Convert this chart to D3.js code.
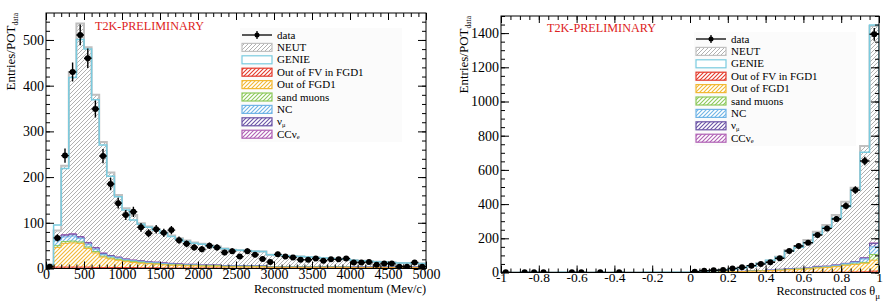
<!DOCTYPE html>
<html>
<head>
<meta charset="utf-8">
<script src="https://cdn.jsdelivr.net/npm/d3@7"></script>
<style>
body { margin: 0; background: #fff; }
svg { display: block; font-family: "Liberation Serif", "DejaVu Serif", serif; }
</style>
</head>
<body>
<div id="chart"></div>
<script>
// ---- momentum panel: 50 bins of 100 MeV/c from 0 to 5000 ----
var momRange = [0, 5000];
var momTicks = [0, 500, 1000, 1500, 2000, 2500, 3000, 3500, 4000, 4500, 5000];
var momYTicks = [0, 100, 200, 300, 400, 500];
var momData = [4, 67, 247, 430, 511, 460, 349, 246, 185, 143, 117, 124, 90, 77, 86, 78, 84, 62, 54, 46,
  42, 50, 46, 35, 38, 26, 38, 30, 21, 14, 31, 26, 24, 19, 19, 22, 17, 20, 20, 22,
  13, 13, 14, 8, 11, 11, 4, 4, 13, 4];
// NEUT = total of the stack
var momNeut = [9, 83, 225, 430, 536, 484, 380, 277, 210, 161, 132, 117, 99, 92, 86, 79, 72, 66, 61, 57,
  54, 51, 48, 44, 41, 40, 39, 38, 37, 30, 29, 28, 27, 26, 25, 24, 23, 22, 21, 20,
  18, 17, 16, 15, 14, 13, 12, 12, 11, 11];
var momGenie = [8, 95, 219, 418, 501, 480, 369, 270, 202, 157, 128, 106, 97, 90, 84, 77, 70, 64, 59, 55,
  53, 49, 46, 43, 41, 40, 39, 38, 37, 30, 29, 28, 27, 26, 25, 24, 23, 22, 21, 20,
  18, 17, 16, 15, 14, 13, 12, 12, 11, 11];
var momOutFV = [1, 3, 3, 3, 3, 3, 2, 2, 2, 2, 2, 2, 1.5, 1.5, 1.5, 1, 1, 1, 1, 1,
  1, 1, 1, 0.5, 0.5, 0.5, 0.5, 0.5, 0.5, 0.5, 0.5, 0.5, 0.5, 0.5, 0.5, 0.5, 0.5, 0.5, 0.5, 0.5,
  0.5, 0.5, 0.5, 0.5, 0.5, 0.5, 0.5, 0.5, 0.5, 0.5];
var momOutFGD = [2, 43, 52, 53, 52, 41, 32, 23, 19, 16, 13, 11, 10, 9, 8, 7, 6, 6, 5, 5,
  4, 4, 4, 3, 3, 3, 3, 3, 3, 2, 2, 2, 2, 2, 2, 2, 2, 2, 2, 2,
  1.5, 1.5, 1.5, 1.5, 1.5, 1.5, 1.5, 1.5, 1.5, 1.5];
var momSand = [0, 4, 4, 4, 3, 3, 3, 2, 2, 2, 2, 2, 2, 1, 1, 1, 1, 1, 1, 1,
  1, 1, 1, 1, 1, 1, 1, 1, 1, 0.5, 0.5, 0.5, 0.5, 0.5, 0.5, 0.5, 0.5, 0.5, 0.5, 0.5,
  0.5, 0.5, 0.5, 0.5, 0.5, 0.5, 0.5, 0.5, 0.5, 0.5];
var momNC = [1, 12, 10, 11, 8, 6, 5, 4, 3, 3, 2, 2, 2, 2, 2, 2, 2, 1, 1, 1,
  1, 1, 1, 1, 1, 1, 1, 1, 1, 0.5, 0.5, 0.5, 0.5, 0.5, 0.5, 0.5, 0.5, 0.5, 0.5, 0.5,
  0.5, 0.5, 0.5, 0.5, 0.5, 0.5, 0.5, 0.5, 0.5, 0.5];
var momNumubar = [0, 3, 4, 4, 3, 3, 3, 2, 2, 1.5, 1.5, 1, 1, 1, 1, 1, 1, 1, 1, 1,
  0.5, 0.5, 0.5, 0.5, 0.5, 0.5, 0.5, 0.5, 0.5, 0.5, 0.3, 0.3, 0.3, 0.3, 0.3, 0.3, 0.3, 0.3, 0.3, 0.3,
  0.3, 0.3, 0.3, 0.3, 0.3, 0.3, 0.3, 0.3, 0.3, 0.3];
var momNue = [0, 1, 1, 1, 1, 1, 1, 1, 0.5, 0.5, 0.5, 0.5, 0.5, 0.5, 0.5, 0.5, 0.3, 0.3, 0.3, 0.3,
  0.2, 0.2, 0.2, 0.2, 0.2, 0.2, 0.2, 0.2, 0.2, 0.2, 0.1, 0.1, 0.1, 0.1, 0.1, 0.1, 0.1, 0.1, 0.1, 0.1,
  0.1, 0.1, 0.1, 0.1, 0.1, 0.1, 0.1, 0.1, 0.1, 0.1];

// ---- cos theta panel: 40 bins of 0.05 from -1 to 1 ----
var cosRange = [-1, 1];
var cosTicks = [-1, -0.8, -0.6, -0.4, -0.2, 0, 0.2, 0.4, 0.6, 0.8, 1];
var cosYTicks = [0, 200, 400, 600, 800, 1000, 1200, 1400];
var cosData = [1, 0, 1, 1, 1, 0, 0, 1, 1, 0, 1, 0, 1, 0, 0, 0, 0, 0, 0, 0,
  5, 10, 13, 15, 24, 30, 40, 50, 60, 83, 126, 155, 174, 219, 258, 313, 389, 482, 652, 1393];
var cosNeut = [0.5, 0.5, 1, 1, 0.5, 0.5, 1, 1, 1, 0.5, 1, 0.5, 1, 0.5, 0.5, 1, 1, 1, 1.5, 2,
  4, 7, 11, 15, 22, 28, 38, 54, 69, 92, 131, 155, 190, 239, 278, 336, 414, 496, 740, 1441];
var cosGenie = [0.5, 0.5, 1, 1, 0.5, 0.5, 1, 1, 1, 0.5, 1, 0.5, 1, 0.5, 0.5, 1, 1, 1, 1.5, 2,
  4, 7, 10, 14, 21, 27, 37, 52, 72, 89, 126, 147, 176, 223, 264, 317, 385, 482, 703, 1447];
var cosOutFV = [0.3, 0.3, 0.3, 0.3, 0.3, 0.3, 0.3, 0.3, 0.3, 0.3, 0.3, 0.3, 0.3, 0.3, 0.3, 0.3, 0.3, 0.3, 0.3, 0.3,
  0.5, 0.5, 0.5, 0.5, 0.5, 0.5, 0.5, 1, 1, 1, 1, 1, 1, 1.5, 1.5, 2, 2, 3, 4, 8];
var cosOutFGD = [0, 0, 0, 0, 0, 0, 0, 0, 0, 0, 0, 0, 0, 0, 0, 0, 0, 0, 0, 0,
  1, 1, 2, 3, 4, 5, 7, 8, 10, 12, 15, 18, 20, 25, 28, 32, 40, 44, 50, 64];
var cosSand = [0, 0, 0, 0, 0, 0, 0, 0, 0, 0, 0, 0, 0, 0, 0, 0, 0, 0, 0, 0,
  0, 0, 0, 0, 0, 0, 0.5, 0.5, 0.5, 0.5, 1, 1, 1, 1, 1, 1.5, 2, 3, 5, 33];
var cosNC = [0, 0, 0, 0, 0, 0, 0, 0, 0, 0, 0, 0, 0, 0, 0, 0, 0, 0, 0, 0,
  0, 0, 0.5, 0.5, 0.5, 1, 1, 1, 2, 2, 3, 3, 3, 4, 4, 6, 7, 10, 20, 45];
var cosNumubar = [0, 0, 0, 0, 0, 0, 0, 0, 0, 0, 0, 0, 0, 0, 0, 0, 0, 0, 0, 0,
  0, 0, 0, 0, 0, 0, 0.5, 0.5, 0.5, 3, 1, 1, 1, 4, 2, 2, 2, 3, 6, 20];
var cosNue = [0, 0, 0, 0, 0, 0, 0, 0, 0, 0, 0, 0, 0, 0, 0, 0, 0, 0, 0, 0,
  0, 0, 0, 0, 0, 0, 0, 0, 0, 0, 0.3, 0.3, 0.3, 0.5, 0.5, 0.5, 0.5, 1, 1, 3];

var legendLabels = ["data", "NEUT", "GENIE", "Out of FV in FGD1", "Out of FGD1", "sand muons", "NC", "νμ", "CCνe"];

// colours
var bkgColors = ["#e33a2c", "#f2b833", "#8cc85a", "#6fb4e6", "#6a53a6", "#b060b4"];
var neutHatch = "#a8a8a8", neutLine = "#c0c0c0", genieColor = "#7acbdf";

var svgWidth = 893, svgHeight = 306;
var svg = d3.select("#chart").append("svg")
  .attr("width", svgWidth)
  .attr("height", svgHeight);

var defs = svg.append("defs");

function hatch(id, color, sw) {
  var p = defs.append("pattern")
    .attr("id", id)
    .attr("patternUnits", "userSpaceOnUse")
    .attr("width", 4)
    .attr("height", 4);
  p.append("rect").attr("width", 4).attr("height", 4).attr("fill", "#fff");
  p.append("path")
    .attr("d", "M-1,1 l2,-2 M0,4 l4,-4 M3,5 l2,-2")
    .attr("stroke", color)
    .attr("stroke-width", sw);
}
hatch("h-neut", neutHatch, 0.9);
bkgColors.forEach(function(c, i) { hatch("h-bkg" + i, c, 1.1); });

// step outline of a histogram, starting and ending on the zero line
function stepPts(vals, lo, w) {
  var pts = [[lo, 0]];
  vals.forEach(function(v, i) {
    pts.push([lo + i * w, v]);
    pts.push([lo + (i + 1) * w, v]);
  });
  pts.push([lo + vals.length * w, 0]);
  return pts;
}

function drawPanel(cfg) {
  var x = d3.scaleLinear().domain(cfg.xDomain).range([cfg.left, cfg.right]);
  var y = d3.scaleLinear().domain(cfg.yDomain).range([cfg.bottom, cfg.top]);
  var n = cfg.data.length;
  var w = (cfg.xDomain[1] - cfg.xDomain[0]) / n;
  var lo = cfg.xDomain[0];

  var line = d3.line().x(d => x(d[0])).y(d => y(d[1]));

  var clipId = "clip-" + cfg.id;
  defs.append("clipPath").attr("id", clipId)
    .append("rect")
    .attr("x", cfg.left).attr("y", cfg.top)
    .attr("width", cfg.right - cfg.left)
    .attr("height", cfg.bottom - cfg.top);

  var g = svg.append("g").attr("clip-path", "url(#" + clipId + ")");

  // cumulative backgrounds, bottom to top
  var cum = [];
  var run = d3.range(n).map(() => 0);
  cfg.bkg.forEach(function(arr) {
    run = run.map((v, i) => v + arr[i]);
    cum.push(run.slice());
  });

  // NEUT total first, then the background stack from the top down
  g.append("path")
    .attr("d", line(stepPts(cfg.neut, lo, w)))
    .attr("fill", "url(#h-neut)")
    .attr("stroke", neutLine)
    .attr("stroke-width", 2);

  for (var k = cum.length - 1; k >= 0; k--) {
    g.append("path")
      .attr("d", line(stepPts(cum[k], lo, w)))
      .attr("fill", "url(#h-bkg" + k + ")")
      .attr("stroke", bkgColors[k])
      .attr("stroke-width", 1);
  }

  // GENIE outline
  g.append("path")
    .attr("d", line(stepPts(cfg.genie, lo, w)))
    .attr("fill", "none")
    .attr("stroke", genieColor)
    .attr("stroke-width", 1.5);

  // data points
  var pts = cfg.data.map((v, i) => ({ i: i, v: v })).filter(d => d.v > 0);
  var dg = g.append("g").attr("stroke", "#000").attr("stroke-width", 1.4);
  dg.selectAll(".eh").data(pts).enter().append("line")
    .attr("x1", d => x(lo + d.i * w)).attr("x2", d => x(lo + (d.i + 1) * w))
    .attr("y1", d => y(d.v)).attr("y2", d => y(d.v));
  dg.selectAll(".ev").data(pts).enter().append("line")
    .attr("x1", d => x(lo + (d.i + 0.5) * w)).attr("x2", d => x(lo + (d.i + 0.5) * w))
    .attr("y1", d => y(d.v - Math.sqrt(d.v))).attr("y2", d => y(d.v + Math.sqrt(d.v)));
  g.selectAll(".pt").data(pts).enter().append("circle")
    .attr("cx", d => x(lo + (d.i + 0.5) * w))
    .attr("cy", d => y(d.v))
    .attr("r", 3)
    .attr("fill", "#000");

  // axes, ROOT style: ticks inside on all four sides
  var xMinor = d3.range(cfg.xDomain[0], cfg.xDomain[1] + cfg.xMinor / 2, cfg.xMinor);
  var yMinor = d3.range(cfg.yDomain[0], cfg.yDomain[1] + 1e-9, cfg.yMinor);

  function axisGroup(axis, tx, ty, fs) {
    var a = svg.append("g")
      .attr("transform", "translate(" + tx + "," + ty + ")")
      .call(axis)
      .attr("font-family", null)
      .attr("font-size", fs || 14);
    a.select(".domain").remove();
    a.selectAll("line").attr("stroke", "#000");
    a.selectAll("text").attr("fill", "#000");
    return a;
  }

  axisGroup(d3.axisBottom(x).tickValues(cfg.xTicks).tickSize(-7).tickPadding(cfg.xPad).tickFormat(cfg.fmt), 0, cfg.bottom, cfg.xFont);
  axisGroup(d3.axisBottom(x).tickValues(xMinor).tickSize(-4).tickFormat(""), 0, cfg.bottom);
  axisGroup(d3.axisTop(x).tickValues(cfg.xTicks).tickSize(-7).tickFormat(""), 0, cfg.top);
  axisGroup(d3.axisTop(x).tickValues(xMinor).tickSize(-4).tickFormat(""), 0, cfg.top);

  axisGroup(d3.axisLeft(y).tickValues(cfg.yTicks).tickSize(-8).tickPadding(2).tickFormat(d3.format("d")), cfg.left, 0);
  axisGroup(d3.axisLeft(y).tickValues(yMinor).tickSize(-4).tickFormat(""), cfg.left, 0);
  axisGroup(d3.axisRight(y).tickValues(cfg.yTicks).tickSize(-8).tickFormat(""), cfg.right, 0);
  axisGroup(d3.axisRight(y).tickValues(yMinor).tickSize(-4).tickFormat(""), cfg.right, 0);

  svg.append("rect")
    .attr("x", cfg.left).attr("y", cfg.top)
    .attr("width", cfg.right - cfg.left)
    .attr("height", cfg.bottom - cfg.top)
    .attr("fill", "none")
    .attr("stroke", "#000")
    .attr("stroke-width", 1);

  // axis titles
  var xt = svg.append("text")
    .attr("x", cfg.right + (cfg.xTitleSub ? 1 : 0))
    .attr("y", cfg.xTitleY)
    .attr("text-anchor", "end")
    .attr("font-size", 12.3);
  xt.append("tspan").text(cfg.xTitle);
  if (cfg.xTitleSub) {
    xt.append("tspan").attr("font-size", 9).attr("dy", 4).text(cfg.xTitleSub);
  }

  var yt = svg.append("text")
    .attr("transform", "translate(" + cfg.yTitleX + "," + cfg.top + ") rotate(-90)")
    .attr("text-anchor", "end")
    .attr("font-size", 13);
  yt.append("tspan").text("Entries/POT");
  yt.append("tspan").attr("font-size", 7.5).attr("dy", 3).text("data");

  // preliminary label
  svg.append("text")
    .attr("x", cfg.prelimX)
    .attr("y", cfg.prelimY)
    .attr("font-size", 12.2)
    .attr("fill", "#dd2222")
    .text("T2K-PRELIMINARY");

  // legend
  var lg = svg.append("g");
  lg.append("rect")
    .attr("x", cfg.legX - 2).attr("y", cfg.legY - 7)
    .attr("width", 162).attr("height", 114)
    .attr("fill", "#fbfbfb");
  var step = 12.4, sw = 30, sh = 8;
  legendLabels.forEach(function(lab, i) {
    var cy = cfg.legY + i * step;
    if (i === 0) {
      lg.append("line").attr("x1", cfg.legX).attr("x2", cfg.legX + sw)
        .attr("y1", cy).attr("y2", cy).attr("stroke", "#000").attr("stroke-width", 1.3);
      lg.append("line").attr("x1", cfg.legX + sw / 2).attr("x2", cfg.legX + sw / 2)
        .attr("y1", cy - 4).attr("y2", cy + 4).attr("stroke", "#000").attr("stroke-width", 1.3);
      lg.append("circle").attr("cx", cfg.legX + sw / 2).attr("cy", cy).attr("r", 2.5).attr("fill", "#000");
    } else {
      var fill, stroke;
      if (i === 1) { fill = "url(#h-neut)"; stroke = neutLine; }
      else if (i === 2) { fill = "#fff"; stroke = genieColor; }
      else { fill = "url(#h-bkg" + (i - 3) + ")"; stroke = bkgColors[i - 3]; }
      lg.append("rect")
        .attr("x", cfg.legX).attr("y", cy - sh / 2)
        .attr("width", sw).attr("height", sh)
        .attr("fill", fill).attr("stroke", stroke).attr("stroke-width", 1.2);
    }
    var t = lg.append("text")
      .attr("x", cfg.legX + sw + 5)
      .attr("y", cy + 3.5)
      .attr("font-size", 11);
    if (lab === "νμ") {
      t.append("tspan").text("ν");
      t.append("tspan").attr("font-size", 6.5).attr("dy", 1.5).text("μ");
    } else if (lab === "CCνe") {
      t.append("tspan").text("CCν");
      t.append("tspan").attr("font-size", 6.5).attr("dy", 1.5).text("e");
    } else {
      t.text(lab);
    }
  });
}

drawPanel({
  id: "mom",
  left: 46, right: 426, top: 13, bottom: 268.5,
  xDomain: momRange, yDomain: [0, 559],
  xTicks: momTicks, yTicks: momYTicks, xMinor: 100, yMinor: 20,
  xFont: 14, xPad: 1,
  fmt: d3.format("d"),
  data: momData, neut: momNeut, genie: momGenie,
  bkg: [momOutFV, momOutFGD, momSand, momNC, momNumubar, momNue],
  xTitle: "Reconstructed momentum (Mev/c)", xTitleY: 293,
  yTitleX: 15,
  prelimX: 95, prelimY: 29.5,
  legX: 242, legY: 35
});

drawPanel({
  id: "cos",
  left: 501, right: 879, top: 16, bottom: 272.5,
  xDomain: cosRange, yDomain: [0, 1500],
  xTicks: cosTicks, yTicks: cosYTicks, xMinor: 0.05, yMinor: 50,
  xFont: 13.5, xPad: 0,
  fmt: d => String(+d.toFixed(1)),
  data: cosData, neut: cosNeut, genie: cosGenie,
  bkg: [cosOutFV, cosOutFGD, cosSand, cosNC, cosNumubar, cosNue],
  xTitle: "Reconstructed cos θ", xTitleSub: "μ", xTitleY: 295,
  yTitleX: 468,
  prelimX: 547, prelimY: 31.5,
  legX: 696, legY: 39
});
</script>
</body>
</html>
